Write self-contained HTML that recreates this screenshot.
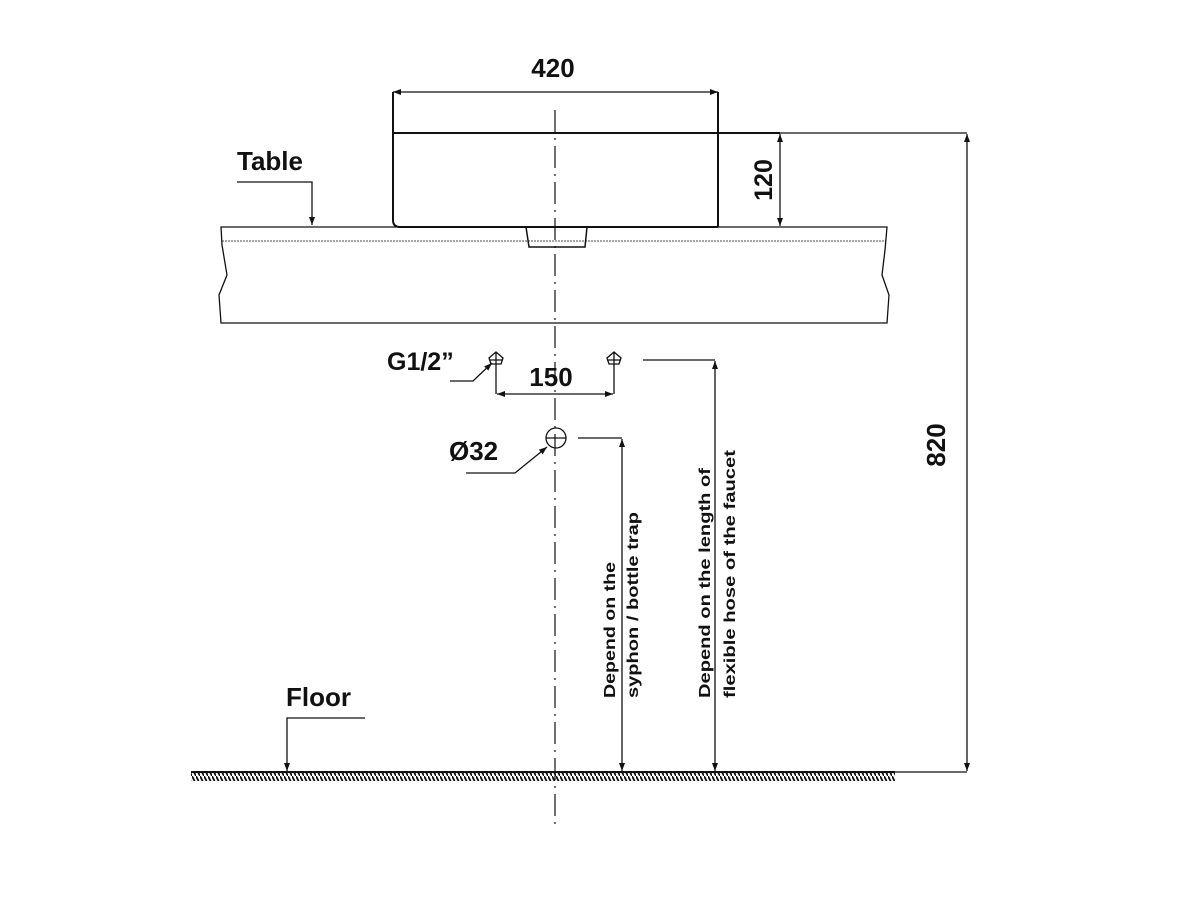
<!DOCTYPE html>
<html><head><style>body{margin:0;background:#fff}svg{display:block}text{font-family:"Liberation Sans",sans-serif;font-weight:bold;fill:#111}</style></head><body>
<svg width="1200" height="900" viewBox="0 0 1200 900" xmlns="http://www.w3.org/2000/svg">
<defs>
<marker id="a" markerWidth="8" markerHeight="6" refX="8" refY="3" orient="auto-start-reverse" markerUnits="userSpaceOnUse"><path d="M0,0 L8,3 L0,6Z" fill="#111"/></marker>
<pattern id="h" width="4" height="8" patternUnits="userSpaceOnUse"><path d="M0,0 L4,8" stroke="#111" stroke-width="1.8"/></pattern>
</defs>
<g fill="none" stroke="#111" stroke-width="1.3">
<line x1="555" y1="110" x2="555" y2="830" stroke-dasharray="22,6,2,6" stroke-width="1.2"/>
<path d="M393,133 L780,133" stroke-width="2"/>
<path d="M393,92 L393,220 Q393,227 400,227 L718,227 M718,92 L718,227" stroke-width="2"/>
<line x1="780" y1="133" x2="967" y2="133"/>
<line x1="393" y1="92" x2="718" y2="92" marker-start="url(#a)" marker-end="url(#a)"/>
<line x1="780" y1="134" x2="780" y2="226" marker-start="url(#a)" marker-end="url(#a)"/>
<path d="M221,227 L887,227 L885,250 L882,275 L889,295 L887,323 L221,323 L219,295 L227,275 L222,245 Z"/>
<line x1="222" y1="241" x2="886" y2="241" stroke-dasharray="2,1" stroke-width="0.8"/>
<path d="M526,227 L529,247 L585,247 L587,227" stroke-width="1.5"/>
<path d="M237,182 L312,182 L312,225" marker-end="url(#a)"/>
<path d="M496,352 L503,358 L501,364 L491,364 L489,358 Z M489,360 L503,360 M496,352 L496,394"/>
<path d="M614,352 L621,358 L619,364 L609,364 L607,358 Z M607,360 L621,360 M614,352 L614,394"/>
<line x1="497" y1="394" x2="613" y2="394" marker-start="url(#a)" marker-end="url(#a)"/>
<path d="M450,381 L473,381 L492,363" marker-end="url(#a)"/>
<circle cx="556" cy="438" r="10"/>
<path d="M546,438 L566,438"/>
<path d="M466,473 L515,473 L547,447" marker-end="url(#a)"/>
<path d="M578,438 L622,438"/>
<line x1="622" y1="439" x2="622" y2="771" marker-start="url(#a)" marker-end="url(#a)"/>
<path d="M643,360 L715,360"/>
<line x1="715" y1="361" x2="715" y2="771" marker-start="url(#a)" marker-end="url(#a)"/>
<line x1="967" y1="134" x2="967" y2="771" marker-start="url(#a)" marker-end="url(#a)"/>
<line x1="895" y1="772" x2="967" y2="772"/>
<rect x="191" y="773" width="704" height="8" fill="url(#h)" stroke="none"/>
<line x1="191" y1="772" x2="895" y2="772" stroke-width="2"/>
<path d="M365,718 L287,718 L287,771" marker-end="url(#a)"/>
</g>
<text x="553" y="77" font-size="26" text-anchor="middle">420</text>
<text transform="translate(772,180) rotate(-90)" font-size="25" text-anchor="middle">120</text>
<text x="237" y="170" font-size="26">Table</text>
<text x="387" y="370" font-size="25">G1/2”</text>
<text x="551" y="386" font-size="26" text-anchor="middle">150</text>
<text x="449" y="460" font-size="26">Ø32</text>
<text transform="translate(945,445) rotate(-90)" font-size="26" text-anchor="middle">820</text>
<text x="286" y="706" font-size="26">Floor</text>
<text transform="translate(615,698) rotate(-90)" font-size="16" textLength="136" lengthAdjust="spacingAndGlyphs">Depend on the</text>
<text transform="translate(638,698) rotate(-90)" font-size="16" textLength="186" lengthAdjust="spacingAndGlyphs">syphon / bottle trap</text>
<text transform="translate(710,698) rotate(-90)" font-size="16" textLength="230" lengthAdjust="spacingAndGlyphs">Depend on the length of</text>
<text transform="translate(735,698) rotate(-90)" font-size="16" textLength="248" lengthAdjust="spacingAndGlyphs">flexible hose of the faucet</text>
</svg>
</body></html>
